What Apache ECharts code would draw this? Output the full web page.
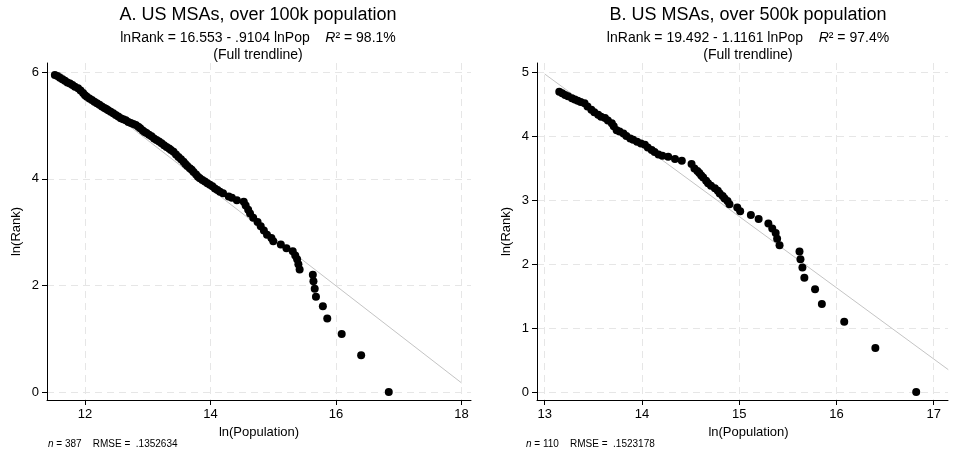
<!DOCTYPE html>
<html><head><meta charset="utf-8">
<script src="https://cdn.jsdelivr.net/npm/echarts@6/dist/echarts.min.js"></script>
<style>html,body{margin:0;padding:0;background:#fff}#c{width:956px;height:459px}</style>
</head><body><div id="c"></div>
<script>
// Panel A: US MSAs over 100k population — [ln(Population), ln(Rank)]
const pointsA = [
 [11.52,5.95],[11.56,5.93],[11.60,5.90],[11.64,5.87],[11.68,5.84],[11.72,5.81],[11.76,5.79],[11.80,5.76],[11.84,5.73],[11.89,5.70],
 [11.93,5.66],[11.97,5.61],[12.00,5.57],[12.03,5.54],[12.07,5.51],[12.11,5.48],[12.15,5.45],[12.19,5.42],[12.23,5.39],[12.27,5.36],
 [12.31,5.33],[12.34,5.31],[12.37,5.29],[12.41,5.26],[12.45,5.23],[12.49,5.20],[12.53,5.17],[12.57,5.14],[12.61,5.12],[12.65,5.10],
 [12.69,5.07],[12.73,5.05],[12.77,5.03],[12.81,5.01],[12.85,4.98],[12.88,4.95],[12.92,4.91],[12.95,4.88],[12.98,4.86],[13.02,4.83],
 [13.06,4.80],[13.10,4.76],[13.14,4.73],[13.18,4.70],[13.22,4.67],[13.26,4.63],[13.30,4.60],[13.34,4.57],[13.37,4.54],[13.41,4.51],
 [13.45,4.46],[13.49,4.41],[13.53,4.37],[13.57,4.32],[13.60,4.28],[13.63,4.24],[13.67,4.20],[13.70,4.17],[13.73,4.13],[13.77,4.08],
 [13.80,4.04],[13.83,4.01],[13.87,3.98],[13.91,3.95],[13.95,3.92],[13.99,3.89],[14.03,3.86],[14.07,3.82],[14.11,3.79],[14.15,3.76],
 [14.20,3.73],[14.29,3.67],[14.34,3.645],[14.42,3.60],[14.53,3.57],[14.56,3.50],[14.60,3.42],[14.63,3.35],[14.68,3.27],[14.75,3.19],
 [14.80,3.11],[14.85,3.03],[14.90,2.95],[14.97,2.89],[15.00,2.83],[15.12,2.77],[15.21,2.70],[15.31,2.64],[15.35,2.56],[15.38,2.49],
 [15.40,2.40],[15.42,2.30],[15.63,2.20],[15.64,2.08],[15.66,1.94],[15.68,1.79],[15.79,1.61],[15.86,1.38],[16.09,1.09],[16.40,0.69],
 [16.84,0.00]
];
// Panel B: US MSAs over 500k population
const pointsB = [
 [13.15,4.70],[13.18,4.68],[13.21,4.65],[13.24,4.63],[13.28,4.60],[13.31,4.58],[13.34,4.56],[13.37,4.54],[13.41,4.52],[13.44,4.47],
 [13.48,4.42],[13.51,4.38],[13.55,4.34],[13.58,4.31],[13.62,4.29],[13.65,4.25],[13.69,4.21],[13.71,4.16],[13.74,4.10],[13.77,4.08],
 [13.81,4.05],[13.84,4.01],[13.88,3.97],[13.91,3.95],[13.95,3.92],[13.99,3.89],[14.03,3.87],[14.06,3.83],[14.10,3.79],[14.13,3.76],
 [14.17,3.72],[14.21,3.70],[14.27,3.685],[14.34,3.65],[14.41,3.62],[14.51,3.57],[14.54,3.50],[14.57,3.46],[14.59,3.43],[14.61,3.39],
 [14.63,3.36],[14.66,3.31],[14.68,3.27],[14.71,3.23],[14.75,3.19],[14.78,3.15],[14.80,3.11],[14.83,3.07],[14.85,3.03],[14.88,2.99],
 [14.90,2.94],[14.98,2.89],[15.01,2.83],[15.12,2.77],[15.20,2.71],[15.30,2.64],[15.34,2.56],[15.375,2.49],[15.39,2.40],[15.415,2.30],
 [15.62,2.20],[15.63,2.08],[15.65,1.95],[15.67,1.79],[15.78,1.61],[15.85,1.38],[16.08,1.10],[16.40,0.69],[16.82,0.00]
];
// Fitted trendlines (end points)
const trendA = [[11.6,6.0],[18.0,0.17]];
const trendB = [[13.0,4.98],[17.15,0.35]];
// Tick values
const xTicksA = [12,14,16,18];
const yTicksA = [0,2,4,6];
const xTicksB = [13,14,15,16,17];
const yTicksB = [0,1,2,3,4,5];
// Texts
const titles = ['A. US MSAs, over 100k population','B. US MSAs, over 500k population'];
const fits = [['lnRank = 16.553 - .9104 lnPop','98.1%'],['lnRank = 19.492 - 1.1161 lnPop','97.4%']];
const notes = [['387','.1352634'],['110','.1523178']];

const FONT = "'Liberation Sans', Arial, Helvetica, sans-serif";
const chart = echarts.init(document.getElementById('c'), null, {renderer:'canvas'});

function xAxis(gi, min, max, ticks, shift) {
  return {type:'value', gridIndex:gi, min, max,
    name:'ln(Population)', nameLocation:'middle', nameGap:25,
    nameTextStyle:{color:'#000', fontSize:13, fontFamily:FONT, padding:[0,0,0,shift]},
    axisLine:{show:true, onZero:false, lineStyle:{color:'#000', width:1}},
    axisTick:{show:true, length:5, inside:false, customValues:ticks, lineStyle:{color:'#000', width:1}},
    axisLabel:{customValues:ticks, margin:8, color:'#000', fontSize:13, fontFamily:FONT},
    splitLine:{show:true, lineStyle:{color:'#e6e6e6', type:[7,5], width:1}}};
}
function yAxis(gi, min, max, ticks) {
  return {type:'value', gridIndex:gi, min, max,
    name:'ln(Rank)', nameLocation:'middle', nameGap:24,
    nameTextStyle:{color:'#000', fontSize:13, fontFamily:FONT},
    axisLine:{show:true, onZero:false, lineStyle:{color:'#000', width:1}},
    axisTick:{show:true, length:5, inside:false, customValues:ticks, lineStyle:{color:'#000', width:1}},
    axisLabel:{customValues:ticks, margin:8, color:'#000', fontSize:13, fontFamily:FONT},
    splitLine:{show:true, lineStyle:{color:'#e6e6e6', type:[7,5], width:1}}};
}
function fitText(cx, y, fit) {
  return {type:'text', x:cx, y:y, style:{
    text:'{n|' + fit[0] + '    }{i|R}{n|\u00b2 = ' + fit[1] + '}',
    align:'center', verticalAlign:'middle', fill:'#000', font:'14px ' + FONT,
    rich:{n:{fontSize:14, fontFamily:FONT, fill:'#000'}, i:{fontSize:14, fontFamily:FONT, fontStyle:'italic', fill:'#000'}}}};
}
function noteText(x, y, nt) {
  return {type:'text', x:x, y:y, style:{
    text:'{i|n}{n| = ' + nt[0] + '    RMSE =  ' + nt[1] + '}',
    align:'left', verticalAlign:'middle', fill:'#000', font:'10px ' + FONT,
    rich:{n:{fontSize:10, fontFamily:FONT, fill:'#000'}, i:{fontSize:10, fontFamily:FONT, fontStyle:'italic', fill:'#000'}}}};
}
function plainText(cx, y, t, size) {
  return {type:'text', x:cx, y:y, style:{text:t, align:'center', verticalAlign:'middle', fill:'#000', font:size + 'px ' + FONT}};
}

const option = {
  backgroundColor:'#fff',
  animation:false,
  grid:[
    {left:47, top:63, width:424, height:337, containLabel:false},
    {left:537, top:63, width:411, height:337, containLabel:false}
  ],
  xAxis:[xAxis(0, 11.395, 18.15, xTicksA, 0), xAxis(1, 12.921, 17.147, xTicksB, 12)],
  yAxis:[yAxis(0, -0.15, 6.175, yTicksA), yAxis(1, -0.125, 5.152, yTicksB)],
  series:[
    {type:'line', xAxisIndex:0, yAxisIndex:0, data:trendA, symbol:'none', lineStyle:{color:'#c4c4c4', width:1}, z:2},
    {type:'scatter', xAxisIndex:0, yAxisIndex:0, data:pointsA, symbol:'circle', symbolSize:8, itemStyle:{color:'#000', opacity:1}, z:3},
    {type:'line', xAxisIndex:1, yAxisIndex:1, data:trendB, symbol:'none', lineStyle:{color:'#c4c4c4', width:1}, z:2},
    {type:'scatter', xAxisIndex:1, yAxisIndex:1, data:pointsB, symbol:'circle', symbolSize:8, itemStyle:{color:'#000', opacity:1}, z:3}
  ],
  graphic:[
    plainText(258, 15, titles[0], 18),
    plainText(748, 15, titles[1], 18),
    fitText(258, 38, fits[0]),
    fitText(748, 38, fits[1]),
    plainText(258, 55, '(Full trendline)', 14),
    plainText(748, 55, '(Full trendline)', 14),
    noteText(48, 444, notes[0]),
    noteText(526, 444, notes[1])
  ]
};
chart.setOption(option);
</script>
</body></html>
